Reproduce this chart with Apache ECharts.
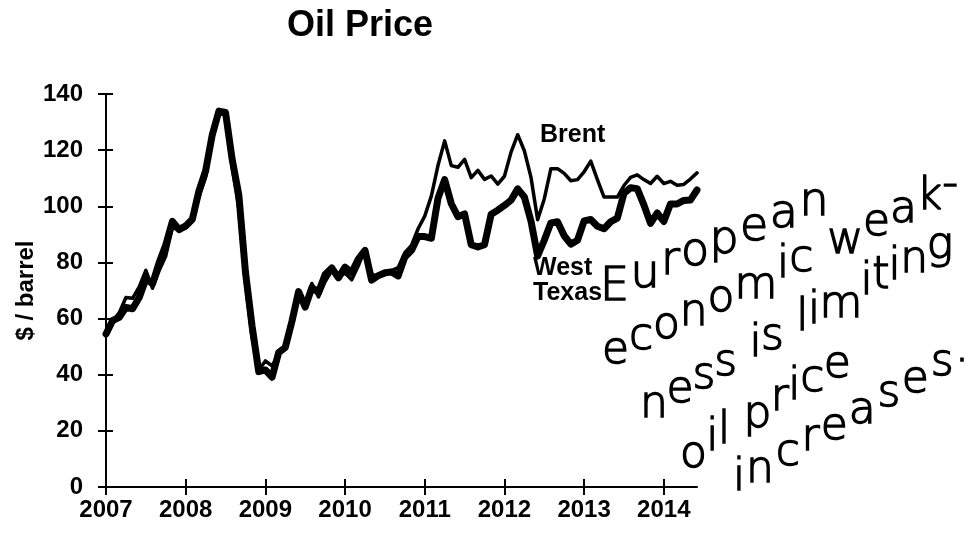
<!DOCTYPE html>
<html>
<head>
<meta charset="utf-8">
<script src="https://cdn.jsdelivr.net/npm/echarts@6/dist/echarts.min.js"></script>
<style>
html,body{margin:0;padding:0;background:#fff;}
#chart{width:972px;height:533px;}
</style>
</head>
<body>
<div id="chart"></div>
<script>
// ---- data (monthly averages, Jan 2007 - Jun 2014, $/barrel) ----
var years = ['2007','2008','2009','2010','2011','2012','2013','2014'];
var monthsInLastYear = 6;
var brent = [
  54.6, 59.0, 62.1, 67.5, 67.2, 71.3, 77.2, 70.8, 77.1, 82.3, 92.5, 91.5,
  92.2, 94.8, 103.3, 110.4, 123.9, 133.1, 133.9, 113.9, 99.1, 72.7, 53.2, 41.6,
  44.9, 43.2, 47.0, 50.9, 57.9, 68.6, 64.9, 72.5, 67.7, 73.2, 77.0, 74.7,
  76.2, 73.8, 78.8, 84.8, 75.9, 74.8, 75.6, 77.1, 78.2, 83.5, 86.1, 92.0,
  96.5, 103.7, 114.6, 123.3, 114.5, 113.9, 116.7, 110.2, 112.8, 109.6, 110.8, 107.9,
  110.7, 119.3, 125.5, 119.8, 110.3, 95.2, 102.6, 113.4, 113.4, 111.7, 109.1, 109.5,
  112.3, 116.1, 109.5, 103.3, 103.3, 103.3, 107.4, 110.3, 111.2, 109.5, 108.1, 110.7,
  108.1, 108.9, 107.5, 107.8, 109.7, 111.9
];
var wti = [
  54.5, 59.3, 60.4, 64.0, 63.5, 67.5, 74.1, 72.4, 79.9, 86.2, 94.6, 91.7,
  93.0, 95.4, 105.5, 112.6, 125.4, 133.9, 133.4, 116.7, 104.1, 76.6, 57.3, 41.1,
  41.7, 39.1, 47.9, 49.7, 59.0, 69.6, 64.1, 71.0, 69.4, 75.7, 78.0, 74.5,
  78.3, 76.4, 81.2, 84.3, 73.7, 75.3, 76.3, 76.6, 75.2, 81.9, 84.3, 89.2,
  89.2, 88.6, 102.9, 109.5, 100.9, 96.3, 97.3, 86.3, 85.5, 86.3, 97.2, 98.6,
  100.3, 102.2, 106.2, 103.3, 94.7, 82.3, 87.9, 94.1, 94.5, 89.5, 86.5, 87.9,
  94.8, 95.3, 92.9, 92.0, 94.5, 95.8, 104.6, 106.6, 106.3, 100.5, 93.9, 97.6,
  94.6, 100.8, 100.8, 102.1, 102.2, 105.8
];
var yTicks = [0, 20, 40, 60, 80, 100, 120, 140];
var noteLines = ['European', 'economic weak-', 'ness is limiting', 'oil price', 'increases.'];

// month categories built from the year list
var months = [];
years.forEach(function (y, i) {
  var n = (i === years.length - 1) ? monthsInLastYear : 12;
  for (var m = 1; m <= n; m++) months.push(y + '-' + (m < 10 ? '0' + m : m));
});

var FONT = '"Liberation Sans", Arial, sans-serif';
var isJan = function (idx) { return idx % 12 === 0; };

// handwriting layout: [baseline startX, baseline startY, endX, angleDeg, fontSize]
var noteLayout = [
  [600, 300, 830, 23, 46],
  [602, 363, 958, 26, 44],
  [640, 417, 952, 29, 44],
  [680, 467, 850, 32, 44],
  [733, 490, 970, 30, 44]
];
var HAND_FONT = '"DejaVu Sans", sans-serif';
var HAND_WEIGHT = 300;
var measureCtx = document.createElement('canvas').getContext('2d');
var noteGraphics = [];
noteLines.forEach(function (t, i) {
  var L = noteLayout[i];
  var fs = L[4];
  var ang = L[3] * Math.PI / 180;
  var len = (L[2] - L[0]) / Math.cos(ang);
  measureCtx.font = HAND_WEIGHT + ' ' + fs + 'px ' + HAND_FONT;
  var total = measureCtx.measureText(t).width;
  var k = len / total;
  var desc = fs * 0.23;
  for (var j = 0; j < t.length; j++) {
    var ch = t.charAt(j);
    var s = k * measureCtx.measureText(t.slice(0, j)).width;
    if (ch === ' ') continue;
    noteGraphics.push({
      type: 'text',
      x: L[0] + s * Math.cos(ang),
      y: L[1] - s * Math.sin(ang) + desc,
      style: {
        text: ch,
        fontFamily: HAND_FONT,
        fontWeight: HAND_WEIGHT,
        fontSize: fs,
        fill: '#000',
        stroke: '#000',
        lineWidth: 1.4,
        align: 'left',
        verticalAlign: 'bottom'
      },
      z: 100
    });
  }
});

var labelStyle = { fontFamily: FONT, fontSize: 25, fontWeight: 'bold', fill: '#000', align: 'left', verticalAlign: 'top' };

var chart = echarts.init(document.getElementById('chart'), null, { renderer: 'canvas' });
chart.setOption({
  backgroundColor: '#fff',
  animation: false,
  title: {
    text: 'Oil Price',
    left: 282,
    top: 3,
    textStyle: { fontFamily: FONT, fontSize: 36, fontWeight: 'bold', color: '#000' }
  },
  grid: { left: 106, right: 275, top: 94, bottom: 46, containLabel: false },
  xAxis: [{
    type: 'category',
    data: months,
    boundaryGap: false,
    axisLine: { lineStyle: { color: '#000', width: 2 } },
    axisTick: { show: true, interval: isJan, length: 8, lineStyle: { color: '#000', width: 2 } },
    axisLabel: {
      interval: isJan,
      formatter: function (v) { return v.slice(0, 4); },
      margin: 11,
      fontFamily: FONT, fontSize: 24, fontWeight: 'bold', color: '#000'
    },
    splitLine: { show: false }
  }, {
    type: 'category',
    data: months,
    boundaryGap: false,
    position: 'bottom',
    axisLine: { show: false },
    axisTick: { show: true, inside: true, interval: isJan, length: 8, lineStyle: { color: '#000', width: 2 } },
    axisLabel: { show: false },
    splitLine: { show: false }
  }],
  yAxis: [{
    type: 'value',
    min: yTicks[0],
    max: yTicks[yTicks.length - 1],
    interval: yTicks[1] - yTicks[0],
    name: '$ / barrel',
    nameLocation: 'middle',
    nameGap: 68,
    nameMoveOverlap: false,
    nameTextStyle: { fontFamily: FONT, fontSize: 24, fontWeight: 'bold', color: '#000' },
    axisLine: { show: true, lineStyle: { color: '#000', width: 2 } },
    axisTick: { show: true, length: 8, lineStyle: { color: '#000', width: 2 } },
    axisLabel: { margin: 23, fontFamily: FONT, fontSize: 24, fontWeight: 'bold', color: '#000' },
    splitLine: { show: false }
  }, {
    type: 'value',
    min: yTicks[0],
    max: yTicks[yTicks.length - 1],
    interval: yTicks[1] - yTicks[0],
    position: 'left',
    axisLine: { show: false },
    axisTick: { show: true, inside: true, length: 7, lineStyle: { color: '#000', width: 2 } },
    axisLabel: { show: false },
    splitLine: { show: false }
  }],
  series: [{
    name: 'West Texas',
    type: 'line',
    data: wti,
    showSymbol: false,
    symbol: 'none',
    lineStyle: { color: '#000', width: 7, join: 'round', cap: 'round' },
    z: 2
  }, {
    name: 'Brent',
    type: 'line',
    data: brent,
    showSymbol: false,
    symbol: 'none',
    lineStyle: { color: '#000', width: 3.5, join: 'round', cap: 'round' },
    z: 3
  }],
  graphic: [
    { type: 'text', x: 540, y: 123, style: Object.assign({ text: 'Brent' }, labelStyle) },
    { type: 'text', x: 533, y: 256, style: Object.assign({ text: 'West' }, labelStyle) },
    { type: 'text', x: 533, y: 281, style: Object.assign({ text: 'Texas' }, labelStyle) }
  ].concat(noteGraphics)
});
</script>
</body>
</html>
